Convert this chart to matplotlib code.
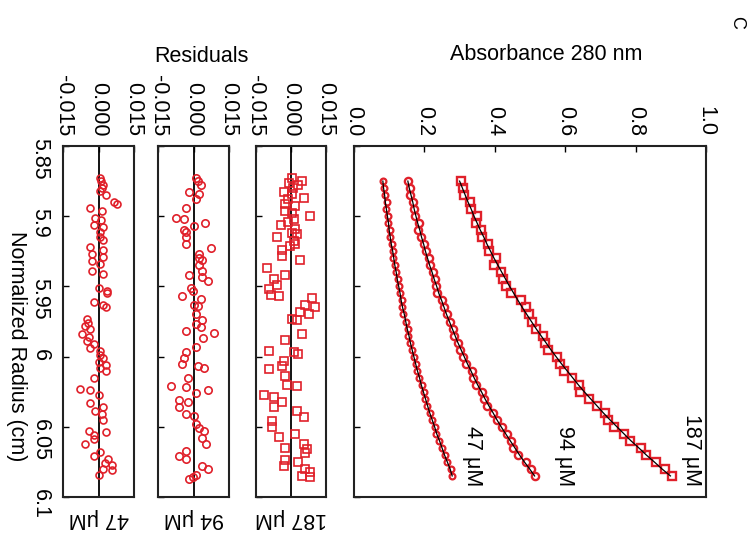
import matplotlib
matplotlib.use("Agg")
import matplotlib.pyplot as plt

plt.rcParams['font.family'] = ['Liberation Sans', 'DejaVu Sans']

# ---------------- data ----------------
r_main = [5.875, 5.880, 5.885, 5.890, 5.895, 5.900, 5.905, 5.910, 5.915, 5.920,
          5.925, 5.930, 5.935, 5.940, 5.945, 5.950, 5.955, 5.960, 5.965, 5.970,
          5.975, 5.980, 5.985, 5.990, 5.995, 6.000, 6.005, 6.010, 6.015, 6.020,
          6.025, 6.030, 6.035, 6.040, 6.045, 6.050, 6.055, 6.060, 6.065, 6.070,
          6.075, 6.080, 6.085]

fit_187 = [0.300, 0.308, 0.316, 0.324, 0.333, 0.341, 0.350, 0.359, 0.369, 0.378,
           0.388, 0.398, 0.409, 0.420, 0.431, 0.442, 0.454, 0.466, 0.478, 0.491,
           0.504, 0.517, 0.531, 0.545, 0.559, 0.574, 0.589, 0.605, 0.621, 0.637,
           0.654, 0.672, 0.690, 0.708, 0.727, 0.747, 0.767, 0.787, 0.809, 0.830,
           0.853, 0.875, 0.899]
abs_187 = [0.305, 0.309, 0.313, 0.329, 0.331, 0.349, 0.346, 0.361, 0.363, 0.380,
           0.384, 0.402, 0.399, 0.418, 0.424, 0.433, 0.445, 0.475, 0.488, 0.498,
           0.506, 0.517, 0.536, 0.543, 0.550, 0.577, 0.586, 0.596, 0.619, 0.640,
           0.643, 0.668, 0.689, 0.713, 0.721, 0.739, 0.766, 0.783, 0.816, 0.829,
           0.859, 0.883, 0.904]

fit_94 = [0.153, 0.157, 0.162, 0.167, 0.171, 0.176, 0.181, 0.187, 0.192, 0.198,
          0.203, 0.209, 0.215, 0.222, 0.228, 0.235, 0.241, 0.249, 0.256, 0.263,
          0.271, 0.279, 0.287, 0.295, 0.304, 0.313, 0.322, 0.332, 0.341, 0.351,
          0.362, 0.372, 0.383, 0.395, 0.406, 0.418, 0.431, 0.444, 0.457, 0.470,
          0.484, 0.499, 0.513]
abs_94 = [0.154, 0.158, 0.160, 0.168, 0.170, 0.174, 0.184, 0.183, 0.189, 0.199,
          0.205, 0.212, 0.217, 0.224, 0.230, 0.234, 0.236, 0.251, 0.256, 0.264,
          0.273, 0.282, 0.283, 0.296, 0.301, 0.309, 0.318, 0.334, 0.337, 0.346,
          0.365, 0.368, 0.379, 0.396, 0.407, 0.421, 0.434, 0.446, 0.453, 0.466,
          0.489, 0.502, 0.513]

fit_47 = [0.082, 0.084, 0.087, 0.089, 0.092, 0.095, 0.098, 0.100, 0.103, 0.106,
          0.110, 0.113, 0.116, 0.120, 0.123, 0.127, 0.131, 0.134, 0.138, 0.143,
          0.147, 0.151, 0.156, 0.160, 0.165, 0.170, 0.175, 0.180, 0.186, 0.191,
          0.197, 0.203, 0.209, 0.215, 0.222, 0.229, 0.235, 0.243, 0.250, 0.257,
          0.265, 0.273, 0.279]
abs_47 = [0.083, 0.085, 0.088, 0.093, 0.091, 0.096, 0.098, 0.101, 0.103, 0.107,
          0.110, 0.111, 0.117, 0.119, 0.124, 0.127, 0.132, 0.135, 0.136, 0.140,
          0.147, 0.152, 0.154, 0.158, 0.166, 0.170, 0.176, 0.179, 0.184, 0.192,
          0.198, 0.201, 0.208, 0.216, 0.221, 0.230, 0.233, 0.241, 0.251, 0.259,
          0.265, 0.275, 0.279]

r_res47 = [5.873, 5.875, 5.8775, 5.880, 5.882, 5.885, 5.890, 5.891, 5.894, 5.896,
           5.901, 5.903, 5.906, 5.908, 5.911, 5.915, 5.917, 5.922, 5.924, 5.927,
           5.929, 5.932, 5.934, 5.939, 5.941, 5.951, 5.953, 5.955, 5.961, 5.963,
           5.965, 5.973, 5.976, 5.978, 5.980, 5.984, 5.986, 5.989, 5.991, 5.994,
           5.996, 5.999, 6.001, 6.004, 6.006, 6.008, 6.010, 6.015, 6.023, 6.024,
           6.027, 6.033, 6.036, 6.039, 6.041, 6.045, 6.053, 6.054, 6.056, 6.059,
           6.062, 6.068, 6.071, 6.073, 6.076, 6.077, 6.080, 6.081, 6.084]
res_47 = [0.0005, 0.001, 0.002, 0.0015, 0.0008, 0.003, 0.0066, 0.0078, -0.0035, 0.0014,
          -0.0015, 0.001, -0.002, 0.002, 0.0008, 0.0007, 0.002, -0.0035, 0.002, -0.0028,
          0.002, -0.0028, 0.0007, -0.0028, 0.002, 0.0, 0.0035, 0.0035, -0.002, 0.002,
          0.003, -0.005, -0.0045, -0.0056, -0.0035, -0.007, -0.004, -0.005, -0.002, -0.0035,
          0.0007, 0.0007, 0.002, 0.0, 0.003, 0.0007, 0.003, -0.002, -0.0078, -0.0035,
          0.0, -0.0035, 0.002, -0.0014, 0.0014, 0.002, -0.004, 0.003, -0.002, -0.002,
          -0.0056, 0.0007, -0.002, 0.004, 0.0028, 0.0056, 0.002, 0.0056, 0.0]

r_res94 = [5.873, 5.875, 5.878, 5.883, 5.884, 5.888, 5.894, 5.901, 5.902, 5.905,
           5.907, 5.910, 5.911, 5.915, 5.920, 5.923, 5.927, 5.930, 5.931, 5.935,
           5.939, 5.942, 5.943, 5.946, 5.951, 5.953, 5.957, 5.959, 5.963, 5.964,
           5.970, 5.974, 5.977, 5.979, 5.982, 5.983, 5.987, 5.993, 5.997, 6.001,
           6.005, 6.007, 6.008, 6.015, 6.021, 6.022, 6.024, 6.026, 6.031, 6.032,
           6.036, 6.041, 6.042, 6.048, 6.051, 6.053, 6.058, 6.062, 6.067, 6.071,
           6.073, 6.078, 6.080, 6.084, 6.086, 6.087]
res_94 = [0.001, 0.0017, 0.003, -0.002, 0.0024, 0.001, -0.003, -0.0075, -0.004, 0.005,
          0.0003, -0.004, -0.003, -0.0032, -0.0032, 0.0073, 0.0024, 0.0024, 0.0038, 0.0024,
          0.0038, -0.0018, 0.0038, 0.006, -0.0011, -0.0004, -0.005, 0.0031, 0.0003, 0.0017,
          0.001, 0.0038, 0.001, 0.0031, -0.0032, 0.0088, 0.004, 0.001, -0.0032, -0.004,
          -0.005, 0.0017, 0.0045, -0.0025, -0.0096, -0.0032, 0.006, 0.001, -0.006, -0.0025,
          -0.006, -0.0032, 0.0003, 0.001, 0.0024, 0.0045, 0.0038, 0.0052, -0.0032, -0.006,
          -0.0032, 0.0038, 0.006, 0.001, -0.0004, -0.0018]

r_res187 = [5.873, 5.875, 5.876, 5.878, 5.880, 5.883, 5.884, 5.887, 5.888, 5.891,
            5.893, 5.896, 5.898, 5.900, 5.902, 5.904, 5.906, 5.909, 5.912, 5.913,
            5.915, 5.918, 5.920, 5.921, 5.924, 5.928, 5.931, 5.937, 5.942, 5.945,
            5.949, 5.952, 5.956, 5.957, 5.958, 5.963, 5.965, 5.968, 5.970, 5.973,
            5.974, 5.984, 5.988, 5.996, 5.997, 5.998, 6.003, 6.007, 6.009, 6.014,
            6.020, 6.021, 6.027, 6.029, 6.032, 6.036, 6.039, 6.043, 6.046, 6.050,
            6.055, 6.057, 6.062, 6.065, 6.066, 6.069, 6.074, 6.075, 6.078, 6.080,
            6.082, 6.085, 6.086]
res_187 = [0.0004, 0.0046, -0.0007, 0.0032, 0.001, -0.003, 0.0004, 0.0054, -0.0011, -0.0024,
           0.0018, -0.0024, 0.0004, 0.0082, 0.0011, -0.0011, -0.0045, 0.0018, 0.0004, 0.0025,
           -0.006, 0.0011, 0.0018, -0.0004, -0.004, -0.004, 0.004, -0.0102, -0.0024, -0.0073,
           -0.0059, -0.0095, -0.0087, -0.0052, 0.009, 0.006, 0.0103, 0.004, 0.0075, 0.0004,
           0.0025, 0.0047, -0.0024, -0.0095, 0.0011, 0.0032, -0.0031, -0.0038, -0.0095, -0.0024,
           -0.0017, 0.0025, -0.0116, -0.0073, -0.0038, -0.0073, 0.0025, 0.0054, -0.008, -0.008,
           0.0018, -0.0052, 0.0054, -0.0024, 0.0068, 0.006, -0.0024, 0.0032, -0.003, 0.006,
           0.0082, 0.0047, 0.0082]

series_labels = ["187 \u03bcM", "94 \u03bcM", "47 \u03bcM"]
abs_ticks = [0.0, 0.2, 0.4, 0.6, 0.8, 1.0]
abs_tick_labels = ["0.0", "0.2", "0.4", "0.6", "0.8", "1.0"]
radius_ticks = [5.85, 5.9, 5.95, 6.0, 6.05, 6.1]
radius_tick_labels = ["5.85", "5.9", "5.95", "6", "6.05", "6.1"]
res_ticks = [-0.015, 0.0, 0.015]
res_tick_labels = ["-0.015", "0.000", "0.015"]

# ---------------- figure ----------------
W, H = 751, 539
fig = plt.figure(figsize=(W / 100, H / 100), dpi=100)
RED = '#e0202a'
FS = 15.5


def px_axes(x0, x1, y0, y1):
    return fig.add_axes([x0 / W, 1 - y1 / H, (x1 - x0) / W, (y1 - y0) / H])


def style_spines(ax):
    for s in ax.spines.values():
        s.set_linewidth(1.5)
        s.set_color('#222222')


# main panel
ax = px_axes(354, 706, 146, 497)
style_spines(ax)
ax.set_xlim(0, 1.0)
ax.set_ylim(6.1, 5.85)
ax.plot(abs_187, r_main, ls='none', marker='s', ms=6.0, mfc='none', mec=RED, mew=1.7, zorder=2)
ax.plot(abs_94, r_main, ls='none', marker='o', ms=5.2, mfc='none', mec=RED, mew=1.7, zorder=2)
ax.plot(abs_47, r_main, ls='none', marker='o', ms=4.2, mfc='none', mec=RED, mew=1.6, zorder=2)
for f in (fit_187, fit_94, fit_47):
    ax.plot(f, r_main, color='black', lw=0.9, zorder=3)
ax.xaxis.set_ticks_position('top')
ax.set_xticks(abs_ticks)
ax.set_xticklabels(abs_tick_labels)
ax.set_yticks(radius_ticks)
ax.tick_params(axis='x', direction='in', length=4, width=1, labelsize=FS,
               labelrotation=-90, pad=7)
ax.tick_params(axis='y', direction='in', length=4, width=1, labelleft=False)
ax.text(0.960, 6.0665, series_labels[0], rotation=-90, ha='center', va='center', fontsize=FS)
ax.text(0.599, 6.0708, series_labels[1], rotation=-90, ha='center', va='center', fontsize=FS)
ax.text(0.338, 6.0708, series_labels[2], rotation=-90, ha='center', va='center', fontsize=FS)

# residual panels
res_specs = [
    (63, 134, r_res47, res_47, 'o', 5.0, series_labels[2], True),
    (158, 229, r_res94, res_94, 'o', 5.3, series_labels[1], False),
    (256, 326, r_res187, res_187, 's', 6.2, series_labels[0], False),
]
for x0, x1, rr, vv, mk, ms, lab, show_r in res_specs:
    a = px_axes(x0, x1, 146, 497)
    style_spines(a)
    a.set_xlim(-0.015, 0.015)
    a.set_ylim(6.1, 5.85)
    a.axvline(0.0, color='black', lw=1.3, zorder=1)
    a.plot(vv, rr, ls='none', marker=mk, ms=ms, mfc='none', mec=RED, mew=1.2, zorder=2)
    a.xaxis.set_ticks_position('top')
    a.set_xticks(res_ticks)
    a.set_xticklabels(res_tick_labels)
    a.set_yticks(radius_ticks)
    a.tick_params(axis='x', direction='in', length=4, width=1, labelsize=FS,
                  labelrotation=-90, pad=7)
    a.tick_params(axis='y', direction='in', length=4, width=1, labelsize=FS,
                  labelrotation=-90, pad=9, labelleft=show_r)
    if show_r:
        a.set_yticklabels(radius_tick_labels)
    a.text(0.5, -0.06, lab, rotation=180, ha='center', va='center',
           fontsize=FS, transform=a.transAxes)

fig.text(546 / W, 1 - 55 / H, "Absorbance 280 nm", ha='center', va='center', fontsize=FS)
fig.text(201 / W, 1 - 57 / H, "Residuals", ha='center', va='center', fontsize=FS)
fig.text(16 / W, 1 - 346 / H, "Normalized Radius (cm)", ha='center', va='center',
         rotation=-90, fontsize=FS)
fig.text(737 / W, 1 - 22 / H, "C", ha='center', va='center', rotation=-90, fontsize=13)

fig.savefig("out.png", dpi=100)
